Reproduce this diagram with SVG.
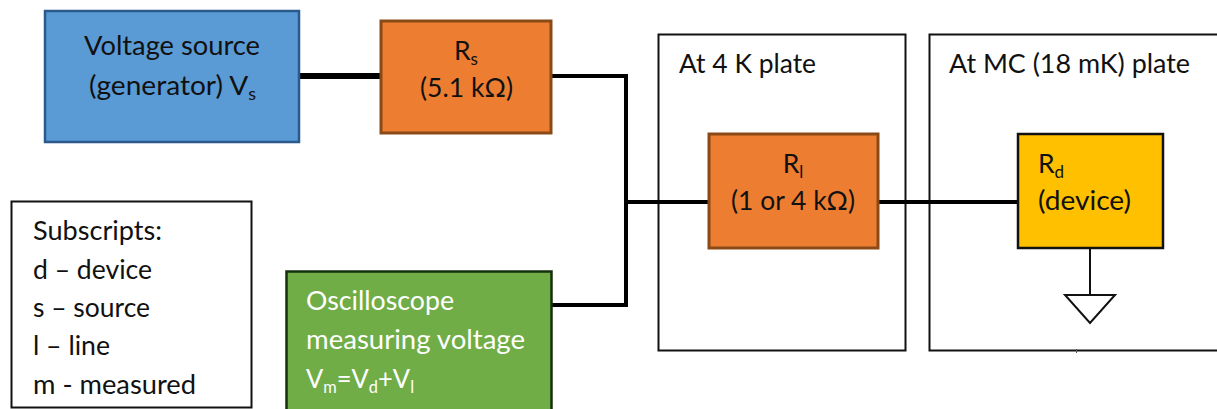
<svg xmlns="http://www.w3.org/2000/svg" width="1217" height="409" viewBox="0 0 1217 409">
<style>
text{font-family:"Lato","Liberation Sans",sans-serif;font-size:26.500px;fill:#111}
.m{text-anchor:middle}
.w{fill:#fff}
.sub{font-size:17px}
.plate{fill:#fff;stroke:#111;stroke-width:2}
.res{fill:#ed7d31;stroke:#8a4a17;stroke-width:3}
.wire{fill:none;stroke:#000;stroke-width:4}
</style>
<rect width="1217" height="409" fill="#fff"/>
<g id="plate-4k"><rect class="plate" x="658.500" y="34.500" width="247" height="316"/><text x="679" y="73" textLength="137" lengthAdjust="spacingAndGlyphs">At 4 K plate</text></g>
<g id="plate-mc"><rect class="plate" x="929.500" y="34.500" width="300" height="316"/><text x="949" y="73" textLength="241" lengthAdjust="spacingAndGlyphs">At MC (18 mK) plate</text><path d="M1076.500 349V353" stroke="#555" stroke-width="1"/></g>
<g id="connectors">
<path d="M300 76H380" fill="none" stroke="#000" stroke-width="6"/>
<path class="wire" d="M552 76H626V305H552M626 202H708M879 202H1017"/>
<path d="M1090 248V295" fill="none" stroke="#111" stroke-width="2"/>
</g>
<g id="source"><rect x="45" y="11" width="254" height="131" fill="#5b9bd5" stroke="#2a5a8c" stroke-width="2.500"/><text x="84" y="55" textLength="176" lengthAdjust="spacingAndGlyphs">Voltage source</text><text x="89" y="95" textLength="167" lengthAdjust="spacingAndGlyphs">(generator) V<tspan class="sub" dy="5">s</tspan></text></g>
<g id="rs"><rect class="res" x="381" y="21" width="170" height="112"/><text class="m" x="466" y="60">R<tspan class="sub" dy="5">s</tspan></text><text x="420" y="97" textLength="93" lengthAdjust="spacingAndGlyphs">(5.1 kΩ)</text></g>
<g id="rl"><rect class="res" x="709" y="134" width="169" height="114"/><text class="m" x="793" y="173">R<tspan class="sub" dy="5">l</tspan></text><text x="731" y="210" textLength="124" lengthAdjust="spacingAndGlyphs">(1 or 4 kΩ)</text></g>
<g id="rd"><rect x="1018" y="134" width="145" height="114" fill="#ffc000" stroke="#111" stroke-width="2.500"/><text x="1038" y="173">R<tspan class="sub" dy="5">d</tspan></text><text x="1038" y="210" textLength="93" lengthAdjust="spacingAndGlyphs">(device)</text></g>
<g id="ground"><path d="M1065 295H1115L1090 323Z" fill="#fff" stroke="#111" stroke-width="2"/></g>
<g id="legend"><rect x="11.500" y="201.500" width="240" height="206" fill="#fff" stroke="#111" stroke-width="2"/>
<text x="33" y="240" textLength="129" lengthAdjust="spacingAndGlyphs">Subscripts:</text><text x="33" y="279" textLength="119" lengthAdjust="spacingAndGlyphs">d – device</text><text x="33" y="317" textLength="117" lengthAdjust="spacingAndGlyphs">s – source</text><text x="33" y="355" textLength="77" lengthAdjust="spacingAndGlyphs">l – line</text><text x="33" y="394" textLength="163" lengthAdjust="spacingAndGlyphs">m - measured</text></g>
<g id="scope"><rect x="286.500" y="271.500" width="265" height="150" fill="#70ad47" stroke="#15300c" stroke-width="2.500"/>
<text class="w" x="306" y="310" textLength="148" lengthAdjust="spacingAndGlyphs">Oscilloscope</text><text class="w" x="306" y="349" textLength="219" lengthAdjust="spacingAndGlyphs">measuring voltage</text><text class="w" x="306" y="388" textLength="108" lengthAdjust="spacingAndGlyphs">V<tspan class="sub w" dy="5">m</tspan><tspan dy="-5">=V</tspan><tspan class="sub w" dy="5">d</tspan><tspan dy="-5">+V</tspan><tspan class="sub w" dy="5">l</tspan></text></g>
</svg>
